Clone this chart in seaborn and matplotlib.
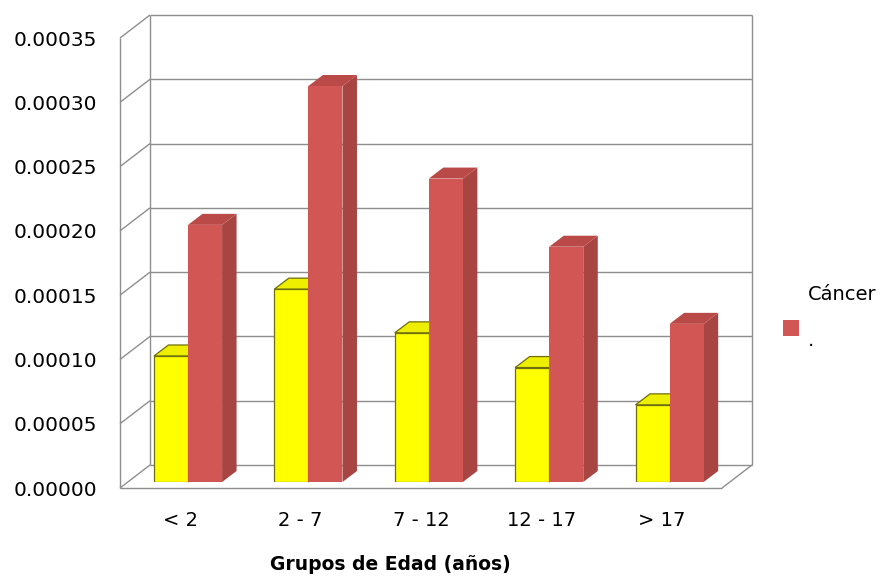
import matplotlib
matplotlib.use('Agg')
import matplotlib.pyplot as plt
import seaborn as sns
import pandas as pd
import numpy as np
from matplotlib.patches import Polygon, Patch
from matplotlib.transforms import ScaledTranslation
from matplotlib.ticker import FormatStrFormatter

# datos
grupos = ['< 2', '2 - 7', '7 - 12', '12 - 17', '> 17']
serie_1 = [0.000098, 0.000150, 0.000116, 0.000089, 0.000060]
cancer = [0.000200, 0.000308, 0.000236, 0.000183, 0.000123]
series = ['Serie 1', 'Cáncer']
leyenda = 'Cáncer\n.'

# colores: cara frontal, cara superior, cara lateral
frente = ['#FFFF00', '#D25653']
arriba = ['#EEEE00', '#BA4A47']
lado = ['#CFCF00', '#A84542']
borde = ['#6E6E10', 'none']
gris = '#8E8E8E'

df = pd.DataFrame({
    'grupo': grupos * 2,
    'valor': serie_1 + cancer,
    'serie': [series[0]] * len(grupos) + [series[1]] * len(grupos),
})

sns.set_style('white')
plt.rcParams['font.family'] = ['DejaVu Sans']
plt.rcParams['text.color'] = 'black'
plt.rcParams['axes.labelcolor'] = 'black'

W, H = 881, 579
fig = plt.figure(figsize=(W / 100, H / 100), dpi=100)
fig.patch.set_facecolor('white')

# plano de las barras (en pixeles)
left, right, bottom, top = 127.8, 729.8, 482, 32
ax = fig.add_axes([left / W, 1 - bottom / H, (right - left) / W, (bottom - top) / H])
YMAX = 0.00035
px_x = len(grupos) / (right - left)
px_y = YMAX / (bottom - top)


def off(dxp, dyp):
    """convierte un desplazamiento en pixeles a unidades de datos"""
    return dxp * px_x, dyp * px_y


sns.barplot(data=df, x='grupo', y='valor', hue='serie', order=grupos,
            hue_order=series, palette=frente, saturation=1, width=0.566,
            legend=False, ax=ax)

# caras 3D de las barras
dx, dy = off(14.5, 11)
n = len(grupos)
for k, p in enumerate(ax.patches):
    s = k // n
    x0, w, h = p.get_x(), p.get_width(), p.get_height()
    p.set_edgecolor(borde[s])
    p.set_linewidth(0.9 if s == 0 else 0)
    p.set_zorder(3 + s * 0.2 + 0.1)
    sup = Polygon([(x0, h), (x0 + w, h), (x0 + w + dx, h + dy), (x0 + dx, h + dy)],
                  closed=True, facecolor=arriba[s], edgecolor=borde[s],
                  linewidth=0.9 if s == 0 else 0, zorder=3 + s * 0.2, clip_on=False)
    lat = Polygon([(x0 + w, 0), (x0 + w + dx, dy), (x0 + w + dx, h + dy), (x0 + w, h)],
                  closed=True, facecolor=lado[s], edgecolor=borde[s],
                  linewidth=0.9 if s == 0 else 0, zorder=3 + s * 0.2, clip_on=False)
    ax.add_patch(lat)
    ax.add_patch(sup)

# paredes y piso
bx, by = off(22.2, 17)
fx, fy = off(-7.8, -6)
ticks = np.linspace(0, YMAX, 8)
x_a, x_b = -0.5, n - 0.5
kw = dict(color=gris, lw=1.0, zorder=1, clip_on=False, solid_capstyle='butt')
for t in ticks:
    ax.plot([x_a + bx, x_b + bx], [t + by, t + by], **kw)
    ax.plot([x_a + fx, x_a + bx], [t + fy, t + by], **kw)
ax.plot([x_a + fx, x_a + fx], [fy, YMAX + fy], **kw)
ax.plot([x_a + bx, x_a + bx], [by, YMAX + by], **kw)
ax.plot([x_b + bx, x_b + bx], [by, YMAX + by], **kw)
ax.plot([x_a + fx, x_b + fx], [fy, fy], **kw)
ax.plot([x_b + fx, x_b + bx], [fy, by], **kw)

ax.set_xlim(x_a, x_b)
ax.set_ylim(0, YMAX)
ax.set_yticks(ticks)
ax.yaxis.set_major_formatter(FormatStrFormatter('%.5f'))
for sp in ax.spines.values():
    sp.set_visible(False)
ax.tick_params(axis='y', length=0, pad=16.6, labelsize=14.5, labelcolor='black')
ax.tick_params(axis='x', length=0, pad=16.5, labelsize=14, labelcolor='black')
ax.set_ylabel('')
ax.set_xlabel('Grupos de Edad (años)', fontsize=13.5, fontweight='bold', color='black')
ax.xaxis.set_label_coords(0.437, -0.163)

# etiquetas en el plano frontal
shift = ScaledTranslation(-7.8 / 100, -6 / 100, fig.dpi_scale_trans)
for lab in ax.get_xticklabels() + ax.get_yticklabels():
    lab.set_transform(lab.get_transform() + shift)

leg = fig.legend(handles=[Patch(facecolor=frente[1], edgecolor='none')],
                 labels=[leyenda], loc='upper left',
                 bbox_to_anchor=(783 / W, 1 - 285 / H), frameon=False,
                 fontsize=14, borderpad=0, borderaxespad=0,
                 handlelength=0.82, handleheight=0.82, handletextpad=0.46)
for t in leg.get_texts():
    t.set_linespacing(2.8)
# bajar el cuadrito como en el original
h0 = leg.legend_handles[0]
h0.set_y(h0.get_y() - 7)

fig.savefig('out.png', dpi=100)
